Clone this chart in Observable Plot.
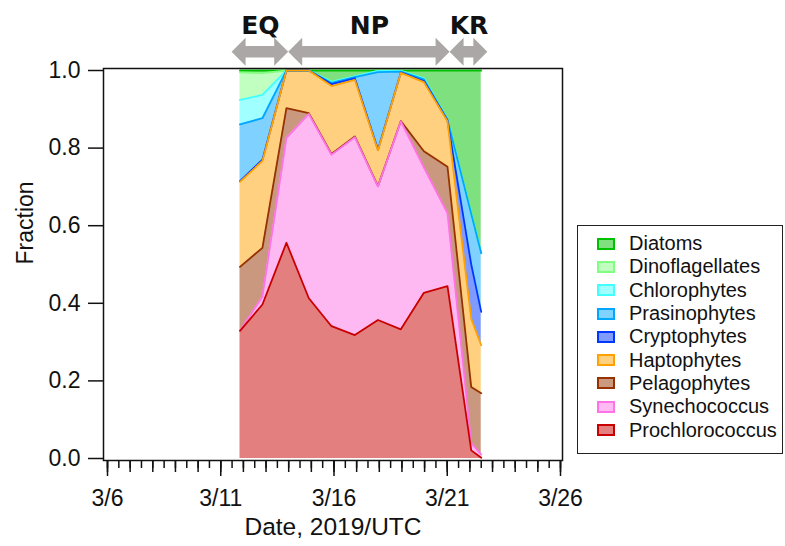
<!DOCTYPE html>
<html>
<head>
<meta charset="utf-8">
<script src="https://cdn.jsdelivr.net/npm/d3@7"></script>
<script src="https://cdn.jsdelivr.net/npm/@observablehq/plot@0.6"></script>
<style>
  body { margin: 0; background: white; }
  #wrap { position: relative; width: 785px; height: 546px; font-family: "Liberation Sans", Arial, sans-serif; }
  #legend { position: absolute; left: 577px; top: 225px; width: 204px; height: 221px; border: 1.5px solid #222; padding-top: 6px; box-sizing: content-box; }
  .item { display: flex; align-items: center; height: 23.3px; font-size: 20px; color: #111; }
  .sw { width: 14px; height: 8px; margin-left: 19px; margin-right: 14px; border: 2px solid; }
</style>
</head>
<body>
<div id="wrap">
  <div id="chart"></div>
  <div id="legend"></div>
</div>
<script>
// sample times (UTC)
const dates = ["2019-03-11T20:24Z", "2019-03-12T20:10Z", "2019-03-13T21:36Z", "2019-03-14T21:20Z",
  "2019-03-15T21:20Z", "2019-03-16T22:05Z", "2019-03-17T22:35Z", "2019-03-18T22:50Z",
  "2019-03-19T23:15Z", "2019-03-21T00:15Z", "2019-03-22T01:25Z", "2019-03-22T12:00Z"];

// fraction of each group, bottom of the stack first
const prochlorococcus = [0.329, 0.397, 0.556, 0.413, 0.341, 0.318, 0.357, 0.333, 0.427, 0.444, 0.021, 0.002];
const synechococcus   = [0.001, 0.020, 0.270, 0.475, 0.442, 0.510, 0.344, 0.536, 0.323, 0.188, 0.019, 0.008];
const pelagophytes    = [0.164, 0.126, 0.077, 0.002, 0.002, 0.002, 0.001, 0.001, 0.042, 0.120, 0.144, 0.158];
const haptophytes     = [0.219, 0.224, 0.097, 0.110, 0.175, 0.146, 0.092, 0.124, 0.178, 0.117, 0.176, 0.124];
const cryptophytes    = [0.002, 0.003, 0, 0, 0.005, 0.004, 0.002, 0.001, 0.003, 0.002, 0.140, 0.086];
const prasinophytes   = [0.146, 0.107, 0, 0, 0.003, 0.003, 0.200, 0.002, 0.004, 0.002, 0.130, 0.151];
const chlorophytes    = [0.063, 0.060, 0, 0, 0.003, 0.002, 0.003, 0.002, 0.003, 0.001, 0, 0];
const dinoflagellates = [0.071, 0.056, 0, 0, 0, 0, 0, 0, 0, 0, 0, 0];
const diatoms         = [0.005, 0.007, 0, 0, 0.029, 0.015, 0.001, 0.001, 0.020, 0.126, 0.370, 0.471];

const taxa = ["Prochlorococcus", "Synechococcus", "Pelagophytes", "Haptophytes", "Cryptophytes",
  "Prasinophytes", "Chlorophytes", "Dinoflagellates", "Diatoms"];
const series = [prochlorococcus, synechococcus, pelagophytes, haptophytes, cryptophytes,
  prasinophytes, chlorophytes, dinoflagellates, diatoms];
const colors = ["#c90000", "#ff73e6", "#963200", "#ffa100", "#0038ff", "#00a6ff", "#41ffff", "#81ff81", "#00c100"];

// cruise regions shown as arrows above the plot
const regions = ["EQ", "NP", "KR"];
const regionStart = ["2019-03-11T12:00Z", "2019-03-14T00:00Z", "2019-03-21T03:00Z"];
const regionEnd = ["2019-03-14T00:00Z", "2019-03-21T03:00Z", "2019-03-22T19:00Z"];

const majorTicks = ["2019-03-06", "2019-03-11", "2019-03-16", "2019-03-21", "2019-03-26"].map(d => new Date(d));
const tickLabels = ["3/6", "3/11", "3/16", "3/21", "3/26"];

const rows = [];
taxa.forEach((t, j) => {
  dates.forEach((d, i) => rows.push({date: new Date(d), taxon: t, value: series[j][i]}));
});
// lines drawn top group first so lower groups sit on top where edges meet
const rowsRev = rows.slice().reverse();

const start = majorTicks[0], end = majorTicks[majorTicks.length - 1];
const dayTicks = d3.utcDay.range(start, new Date(+end + 1));
const halfTicks = d3.utcHour.every(12).range(start, new Date(+end + 1));

const arrows = (index, scales) => {
  const g = d3.create("svg:g").attr("fill", "#aaa7a6");
  const y = 51.7, h = 14, head = 14, shaft = 5.7;
  regions.forEach((r, i) => {
    const x1 = scales.x(new Date(regionStart[i])), x2 = scales.x(new Date(regionEnd[i]));
    g.append("path").attr("d",
      `M${x1},${y}L${x1 + h},${y - head}L${x1 + h},${y - shaft}L${x2 - h},${y - shaft}L${x2 - h},${y - head}` +
      `L${x2},${y}L${x2 - h},${y + head}L${x2 - h},${y + shaft}L${x1 + h},${y + shaft}L${x1 + h},${y + head}Z`);
  });
  return g.node();
};

const chart = Plot.plot({
  width: 785,
  height: 546,
  marginLeft: 103,
  marginRight: 223,
  marginTop: 68,
  marginBottom: 86,
  style: {fontFamily: "Liberation Sans, Arial, sans-serif", fontSize: "23px", color: "#111", background: "white"},
  x: {type: "utc", domain: [start, end], insetLeft: 4, insetRight: 2},
  y: {domain: [0, 1], insetTop: 2, insetBottom: 2},
  color: {domain: taxa, range: colors},
  marks: [
    Plot.areaY(rows, {x: "date", y: "value", z: "taxon", fill: "taxon", fillOpacity: 0.5, order: taxa}),
    Plot.lineY(rowsRev, Plot.stackY2({x: "date", y: "value", z: "taxon", stroke: "taxon", order: taxa, strokeWidth: 1.8})),
    Plot.frame({stroke: "#111", strokeWidth: 1.5}),
    Plot.axisY({ticks: [0, 0.2, 0.4, 0.6, 0.8, 1.0], tickFormat: ".1f", tickSize: 15, tickPadding: 8,
      fontSize: 23, strokeWidth: 1.5, label: null}),
    Plot.axisX({ticks: halfTicks, tickSize: 8, tickFormat: null, text: null, strokeWidth: 1.5, label: null}),
    Plot.axisX({ticks: dayTicks, tickSize: 12, tickFormat: null, text: null, strokeWidth: 1.5, label: null}),
    Plot.axisX({ticks: majorTicks, tickSize: 16, tickPadding: 13, fontSize: 23, strokeWidth: 1.5, label: null,
      tickFormat: d => tickLabels[majorTicks.findIndex(t => +t === +d)]}),
    Plot.text(["Date, 2019/UTC"], {frameAnchor: "bottom", dy: 74, fontSize: 24.5, text: d => d}),
    Plot.text(["Fraction"], {frameAnchor: "left", dx: -78, rotate: -90, fontSize: 23, text: d => d}),
    arrows,
    Plot.text(regions, {
      x: (d, i) => new Date((+new Date(regionStart[i]) + +new Date(regionEnd[i])) / 2),
      frameAnchor: "top", lineAnchor: "bottom", dy: -35,
      text: d => d, fontSize: 25, fontWeight: "bold", fontFamily: "DejaVu Sans"
    })
  ]
});

d3.select("#chart").append(() => chart);

// legend, top of the stack first
const legend = d3.select("#legend");
taxa.slice().reverse().forEach(t => {
  const c = colors[taxa.indexOf(t)];
  const item = legend.append("div").attr("class", "item");
  item.append("div").attr("class", "sw")
    .style("border-color", c)
    .style("background", d3.interpolateRgb(c, "white")(0.5));
  item.append("span").text(t);
});
</script>
</body>
</html>
